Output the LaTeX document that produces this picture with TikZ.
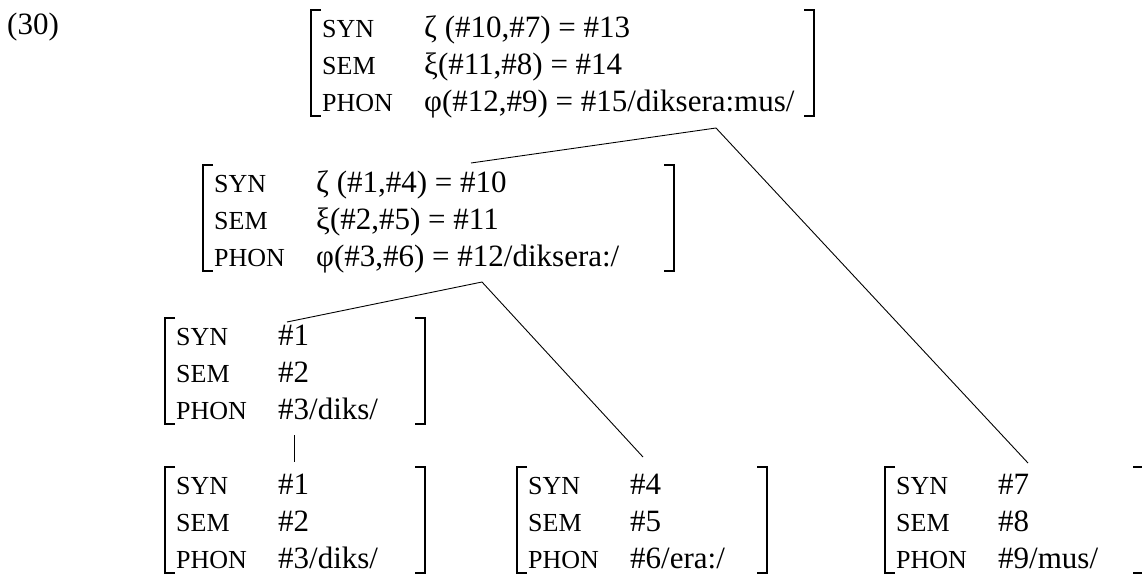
\documentclass[tikz,border=0pt]{standalone}
\usepackage{fontspec}
\setmainfont{Liberation Serif}
\begin{document}
\begin{tikzpicture}[x=1pt,y=-1pt,
  lab/.style={anchor=base west, inner sep=0pt, font=\fontsize{26}{30}\selectfont},
  val/.style={anchor=base west, inner sep=0pt, font=\fontsize{31}{37}\selectfont},
  brk/.style={line width=1.7pt},
  edge/.style={line width=0.9pt}]
\useasboundingbox (0,0) rectangle (1142,573);

% attribute-value matrix: name, left bracket x, right bracket x, first baseline, SYN, SEM, PHON values
\newcommand\drawavm[7]{%
  \node[lab] (#1-synl)  at (#2+11,#4)    {SYN};
  \node[lab] (#1-seml)  at (#2+11,#4+37) {SEM};
  \node[lab] (#1-phonl) at (#2+11,#4+74) {PHON};
  \node[val] (#1-syn)   at (#2+113,#4)    {#5};
  \node[val] (#1-sem)   at (#2+113,#4+37) {#6};
  \node[val] (#1-phon)  at (#2+113,#4+74) {#7};
  \draw[brk] (#2+10,#4-27) -- (#2,#4-27) -- (#2,#4+79) -- (#2+10,#4+79);
  \draw[brk] (#3-10,#4-27) -- (#3,#4-27) -- (#3,#4+79) -- (#3-10,#4+79);
}

\node[val] (exnum) at (7,34) {(30)};

\drawavm{top}{311}{814}{37}{ζ (\#10,\#7) = \#13}{ξ(\#11,\#8) = \#14}{φ(\#12,\#9) = \#15/diksera:mus/}
\drawavm{mid}{203}{674}{192}{ζ (\#1,\#4) = \#10}{ξ(\#2,\#5) = \#11}{φ(\#3,\#6) = \#12/diksera:/}
\drawavm{diks}{165}{425}{345}{\#1}{\#2}{\#3/diks/}
\drawavm{bone}{165}{425}{494}{\#1}{\#2}{\#3/diks/}
\drawavm{btwo}{517}{767}{494}{\#4}{\#5}{\#6/era:/}
\drawavm{bthree}{885}{1143}{494}{\#7}{\#8}{\#9/mus/}

% branching points and attachment points
\coordinate (top-root) at (716,128);
\coordinate (mid-root) at (482,282);
\coordinate (mid-hook) at (471,163);
\coordinate (diks-hook) at (287,322);
\coordinate (btwo-hook) at (643,457);
\coordinate (bthree-hook) at (1028,463);
\coordinate (diks-foot) at (294,435);
\coordinate (bone-head) at (294,462);

\draw[edge] (mid-hook) -- (top-root) -- (bthree-hook);
\draw[edge] (diks-hook) -- (mid-root) -- (btwo-hook);
\draw[edge] (diks-foot) -- (bone-head);
\end{tikzpicture}
\end{document}
